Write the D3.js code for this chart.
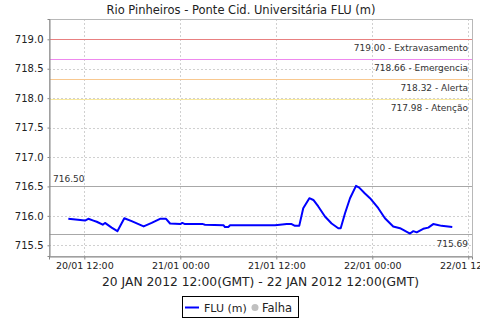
<!DOCTYPE html>
<html><head><meta charset="utf-8">
<script src="https://cdn.jsdelivr.net/npm/d3@7"></script>
<style>html,body{margin:0;padding:0;background:#fff;}svg{display:block;font-family:"DejaVu Sans",sans-serif;}</style>
</head><body><svg id="c" width="480" height="320"></svg>
<script>
const title = "Rio Pinheiros - Ponte Cid. Universitária FLU (m)";
const xAxisTitle = "20 JAN 2012 12:00(GMT) - 22 JAN 2012 12:00(GMT)";
const times = ["2012-01-20T10:00","2012-01-20T12:05","2012-01-20T12:30","2012-01-20T13:08","2012-01-20T13:33","2012-01-20T14:18","2012-01-20T14:35","2012-01-20T15:25","2012-01-20T16:08","2012-01-20T17:00","2012-01-20T17:55","2012-01-20T19:25","2012-01-20T20:25","2012-01-20T21:28","2012-01-20T22:13","2012-01-20T22:43","2012-01-21T00:00","2012-01-21T00:15","2012-01-21T00:35","2012-01-21T02:50","2012-01-21T03:05","2012-01-21T05:25","2012-01-21T05:35","2012-01-21T06:00","2012-01-21T06:13","2012-01-21T11:50","2012-01-21T12:27","2012-01-21T13:18","2012-01-21T13:55","2012-01-21T14:20","2012-01-21T14:52","2012-01-21T15:22","2012-01-21T16:08","2012-01-21T16:38","2012-01-21T17:15","2012-01-21T18:05","2012-01-21T18:55","2012-01-21T19:45","2012-01-21T20:03","2012-01-21T20:35","2012-01-21T21:13","2012-01-21T21:58","2012-01-21T22:22","2012-01-21T23:05","2012-01-21T23:43","2012-01-22T00:45","2012-01-22T01:35","2012-01-22T02:37","2012-01-22T03:28","2012-01-22T04:43","2012-01-22T05:08","2012-01-22T05:33","2012-01-22T06:22","2012-01-22T07:00","2012-01-22T07:37","2012-01-22T08:03","2012-01-22T08:40","2012-01-22T10:00"];
const flu = [715.95,715.92,715.95,715.92,715.90,715.85,715.88,715.80,715.74,715.96,715.91,715.82,715.88,715.95,715.95,715.87,715.86,715.88,715.86,715.86,715.85,715.84,715.81,715.81,715.84,715.84,715.85,715.86,715.86,715.83,715.83,716.13,716.30,716.27,716.16,715.99,715.87,715.79,715.79,716.04,716.30,716.51,716.48,716.38,716.30,716.13,715.96,715.82,715.79,715.70,715.74,715.72,715.78,715.80,715.86,715.85,715.83,715.81];
const thresholdValues = [719.00, 718.66, 718.32, 717.98];
const thresholdNames = ["Extravasamento", "Emergencia", "Alerta", "Atenção"];
const thresholdColors = ["#e88080", "#ee88ee", "#f8c890", "#f8e89c"];
const maxValue = 716.50, minValue = 715.69;
const yTicks = [715.5, 716.0, 716.5, 717.0, 717.5, 718.0, 718.5, 719.0];
const xTicks = ["2012-01-20T12:00","2012-01-21T00:00","2012-01-21T12:00","2012-01-22T00:00","2012-01-22T12:00"];
const legendItems = ["FLU (m)", "Falha"];

const svg = d3.select("#c");
const L = 49, R = 472, T = 19, B = 256;
const parse = d3.utcParse("%Y-%m-%dT%H:%M");
const x = d3.scaleUtc().domain([parse("2012-01-20T07:35"), parse("2012-01-22T12:28")]).range([L, R]);
const y = d3.scaleLinear().domain([715.318, 719.345]).range([B, T]);
const data = times.map((t, i) => ({t: parse(t), v: flu[i]}));
const fmtX = d3.utcFormat("%d/%m %H:%M");

// title
svg.append("text").attr("x", 241).attr("y", 14).attr("text-anchor", "middle")
  .attr("font-size", 11.5).attr("fill", "#222").text(title);

// grid
const g = svg.append("g");
g.selectAll(".gx").data(xTicks.map(parse)).join("line")
  .attr("x1", d => Math.round(x(d)) + 0.5).attr("x2", d => Math.round(x(d)) + 0.5)
  .attr("y1", T).attr("y2", B).attr("stroke", "#d0d0d0").attr("stroke-dasharray", "2,2");
g.selectAll(".gy").data(yTicks).join("line")
  .attr("x1", L).attr("x2", R)
  .attr("y1", d => Math.round(y(d)) + 0.5).attr("y2", d => Math.round(y(d)) + 0.5)
  .attr("stroke", "#d0d0d0").attr("stroke-dasharray", "2,2");

// frame
svg.append("rect").attr("x", L + 0.5).attr("y", T + 0.5).attr("width", R - L).attr("height", B - T)
  .attr("fill", "none").attr("stroke", "#b8b8b8");

// thresholds
thresholdValues.forEach((v, i) => {
  const yy = Math.round(y(v)) + 0.5;
  svg.append("line").attr("x1", L + 1).attr("x2", R).attr("y1", yy).attr("y2", yy)
    .attr("stroke", thresholdColors[i]).attr("stroke-width", 1);
  svg.append("text").attr("x", 468).attr("y", yy + 11).attr("text-anchor", "end")
    .attr("font-size", 9).attr("fill", "#333").text(v.toFixed(2) + " - " + thresholdNames[i]);
});
[maxValue, minValue].forEach((v, i) => {
  const yy = Math.round(y(v)) + 0.5;
  svg.append("line").attr("x1", L).attr("x2", R).attr("y1", yy).attr("y2", yy)
    .attr("stroke", "#a8a8a8");
  if (i === 0) svg.append("text").attr("x", 53).attr("y", yy - 5).attr("font-size", 9).attr("fill", "#333").text(v.toFixed(2));
  else svg.append("text").attr("x", 468).attr("y", yy + 12).attr("text-anchor", "end").attr("font-size", 9).attr("fill", "#333").text(v.toFixed(2));
});

// line
svg.append("path").datum(data)
  .attr("d", d3.line().x(d => x(d.t)).y(d => y(d.v)))
  .attr("fill", "none").attr("stroke", "#0000ff").attr("stroke-width", 2).attr("stroke-linejoin", "round");

// axes
const ax = svg.append("g").attr("transform", `translate(0,${B + 0.5})`)
  .call(d3.axisBottom(x).tickValues(xTicks.map(parse)).tickFormat(fmtX).tickSize(3).tickPadding(3));
const ay = svg.append("g").attr("transform", `translate(${L + 0.5},0)`)
  .call(d3.axisLeft(y).tickValues(yTicks).tickFormat(d3.format(".1f")).tickSize(2).tickPadding(4));
[ax, ay].forEach(a => {
  a.select(".domain").attr("stroke", "#888");
  a.selectAll(".tick line").attr("stroke", "#888");
  a.selectAll("text").attr("fill", "#222").attr("font-family", "DejaVu Sans, sans-serif");
});
ax.selectAll("text").attr("font-size", 9.5);
ay.selectAll("text").attr("font-size", 10);

// x axis title
svg.append("text").attr("x", (L + R) / 2).attr("y", 286).attr("text-anchor", "middle")
  .attr("font-size", 12.3).attr("fill", "#222").text(xAxisTitle);

// legend
const lg = svg.append("g");
lg.append("rect").attr("x", 182.5).attr("y", 296.5).attr("width", 116).attr("height", 21)
  .attr("fill", "#fff").attr("stroke", "#000");
lg.append("line").attr("x1", 185).attr("x2", 199).attr("y1", 307.5).attr("y2", 307.5)
  .attr("stroke", "#0000ff").attr("stroke-width", 2);
lg.append("text").attr("x", 204).attr("y", 312).attr("font-size", 11).attr("fill", "#222").text(legendItems[0]);
lg.append("circle").attr("cx", 255).attr("cy", 307.5).attr("r", 3.5).attr("fill", "#c0c0c0");
lg.append("text").attr("x", 262).attr("y", 312).attr("font-size", 11.5).attr("fill", "#222").text(legendItems[1]);
</script></body></html>
